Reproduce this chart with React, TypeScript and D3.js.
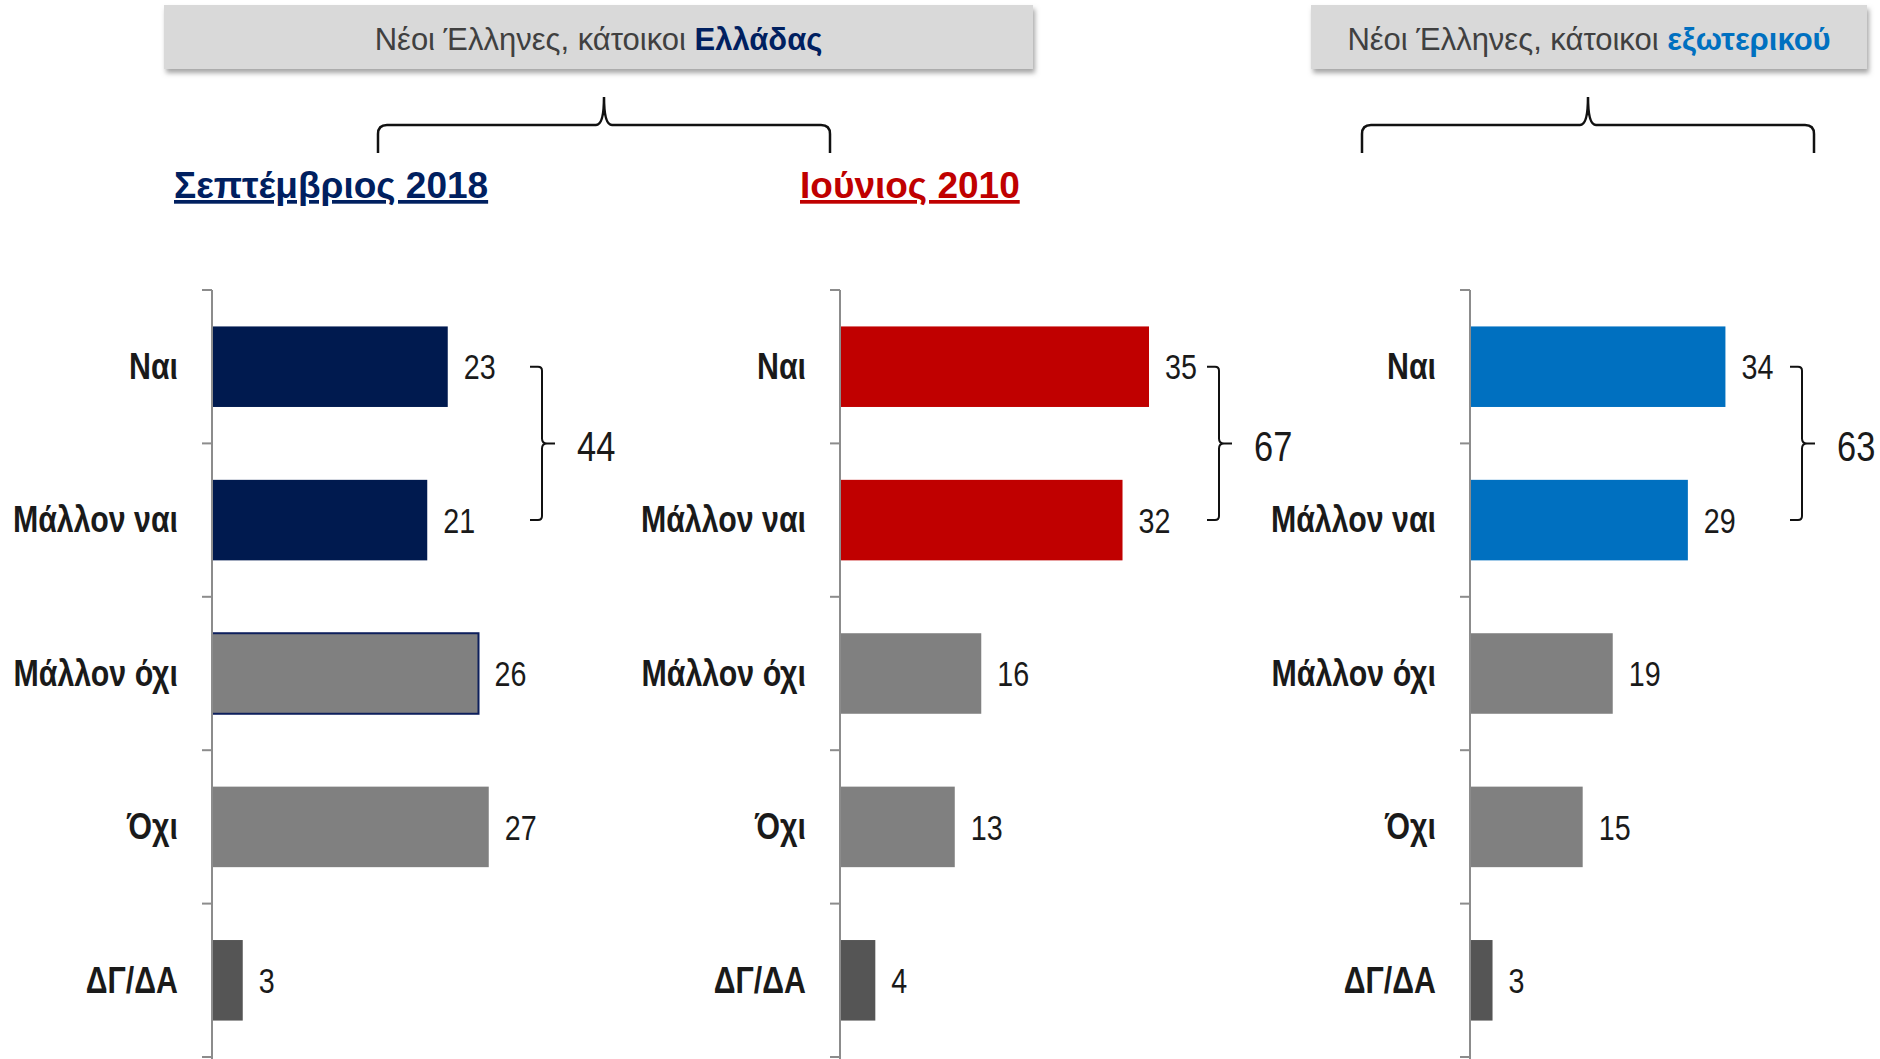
import * as d3 from 'd3'

const categories = ['Ναι', 'Μάλλον ναι', 'Μάλλον όχι', 'Όχι', 'ΔΓ/ΔΑ']
const greeceSep2018 = [23, 21, 26, 27, 3]
const greeceJun2010 = [35, 32, 16, 13, 4]
const abroadValues = [34, 29, 19, 15, 3]

const headerLabels = [
  { plain: 'Νέοι Έλληνες, κάτοικοι ', strong: 'Ελλάδας', color: '#002060' },
  { plain: 'Νέοι Έλληνες, κάτοικοι ', strong: 'εξωτερικού', color: '#0070c0' }
]
const subtitleLabels = ['Σεπτέμβριος 2018', 'Ιούνιος 2010']

const W = 1880
const H = 1059
const SANS = '"Liberation Sans", Arial, sans-serif'
const GREY = '#808080'
const DARK_GREY = '#555555'
const TEXT = '#1a1a1a'

// layout of the three panels (axis x, plot width, axis max, bracket offset)
const panels = [
  { values: greeceSep2018, color: '#001a4f', axisX: 212, width: 307.5, xMax: 30, bracketDx: 318, outlined: 2 },
  { values: greeceJun2010, color: '#c00000', axisX: 840, width: 309, xMax: 35, bracketDx: 367, outlined: -1 },
  { values: abroadValues, color: '#0070c0', axisX: 1470, width: 300.5, xMax: 40, bracketDx: 320, outlined: -1 }
]

const y = d3.scaleBand()
  .domain(categories)
  .range([290, 1057])
  .paddingInner(0.475)
  .paddingOuter(0.2375)

// Arial Narrow look-alike: squeeze Liberation Sans horizontally
function NText({ x, y, dy = '0', anchor = 'start', size, weight = 'normal', fill = TEXT, children }) {
  return (
    <g transform={`translate(${x},${y}) scale(0.82,1)`}>
      <text x={0} y={0} dy={dy} textAnchor={anchor} fontFamily={SANS} fontSize={size}
        fontWeight={weight} fill={fill}>{children}</text>
    </g>
  )
}

function Panel({ p }) {
  const x = d3.scaleLinear().domain([0, p.xMax]).range([p.axisX, p.axisX + p.width])
  const bw = y.bandwidth()
  const gap = (y.step() - bw) / 2
  const bounds = categories.map(c => y(c) - gap).concat([y(categories[categories.length - 1]) + bw + gap])

  const top = y(categories[0]) + bw / 2
  const bottom = y(categories[1]) + bw / 2
  const mid = bounds[1]
  const x0 = p.axisX + p.bracketDx
  const x1 = x0 + 12
  const tip = x0 + 25
  const bracket = `M${x0},${top} H${x1 - 4} Q${x1},${top} ${x1},${top + 4} V${mid - 5} Q${x1},${mid} ${x1 + 5},${mid} H${tip} ` +
    `M${x1 + 5},${mid} Q${x1},${mid} ${x1},${mid + 5} V${bottom - 4} Q${x1},${bottom} ${x1 - 4},${bottom} H${x0}`
  const total = p.values[0] + p.values[1]

  return (
    <g>
      {p.values.map((v, i) => (
        <rect
          key={i}
          x={x(0)}
          y={y(categories[i])}
          width={x(v) - x(0)}
          height={bw}
          fill={i < 2 ? p.color : i < 4 ? GREY : DARK_GREY}
          stroke={i === p.outlined ? '#0d1f5c' : 'none'}
          strokeWidth={2}
        />
      ))}
      <line x1={p.axisX} x2={p.axisX} y1={bounds[0]} y2={H} stroke="#8c8c8c" strokeWidth={2} />
      {bounds.map((b, i) => (
        <line key={i} x1={p.axisX - 10} x2={p.axisX} y1={b} y2={b} stroke="#8c8c8c" strokeWidth={2} />
      ))}
      {categories.map(c => (
        <NText key={c} x={p.axisX - 34} y={y(c) + bw / 2} dy="0.33em" anchor="end"
          size={37} weight="bold">{c}</NText>
      ))}
      {p.values.map((v, i) => (
        <NText key={i} x={x(v) + 16} y={y(categories[i]) + bw / 2} dy="0.36em" size={35}>{v}</NText>
      ))}
      <path d={bracket} fill="none" stroke="#111" strokeWidth={2} />
      <NText x={x0 + 47} y={mid} dy="0.42em" size={42}>{total}</NText>
    </g>
  )
}

function Brace({ left, right, cx }) {
  const yb = 125
  const d = `M${left},153 V${yb + 9} Q${left},${yb} ${left + 9},${yb} H${cx - 8} Q${cx},${yb} ${cx},${97} ` +
    `Q${cx},${yb} ${cx + 8},${yb} H${right - 9} Q${right},${yb} ${right},${yb + 9} V153`
  return <path d={d} fill="none" stroke="#111" strokeWidth={2.5} />
}

export default function App() {
  const boxes = [
    { x: 164, w: 869, label: headerLabels[0] },
    { x: 1311, w: 556, label: headerLabels[1] }
  ]
  return (
    <svg width={W} height={H} viewBox={`0 0 ${W} ${H}`}
      style={{ position: 'absolute', left: 0, top: 0, background: '#fff' }}>
      <defs>
        <filter id="shadow" x="-5%" y="-20%" width="110%" height="160%">
          <feDropShadow dx="2" dy="4" stdDeviation="2.5" floodColor="#7f7f7f" floodOpacity="0.7" />
        </filter>
      </defs>
      {boxes.map((b, i) => (
        <g key={i}>
          <rect x={b.x} y={5} width={b.w} height={64} fill="#d9d9d9" filter="url(#shadow)" />
          <text x={b.x + b.w / 2} y={50} textAnchor="middle" fontFamily={SANS} fontSize={31} fill="#404040">
            {b.label.plain}
            <tspan fontWeight="bold" fill={b.label.color}>{b.label.strong}</tspan>
          </text>
        </g>
      ))}
      <Brace left={378} right={830} cx={604} />
      <Brace left={1362} right={1814} cx={1588} />
      <text x={174} y={198} fontFamily={SANS} fontWeight="bold" fontSize={37} fill="#002060"
        textDecoration="underline">{subtitleLabels[0]}</text>
      <text x={800} y={198} fontFamily={SANS} fontWeight="bold" fontSize={37} fill="#c00000"
        textDecoration="underline">{subtitleLabels[1]}</text>
      {panels.map((p, i) => <Panel key={i} p={p} />)}
    </svg>
  )
}
